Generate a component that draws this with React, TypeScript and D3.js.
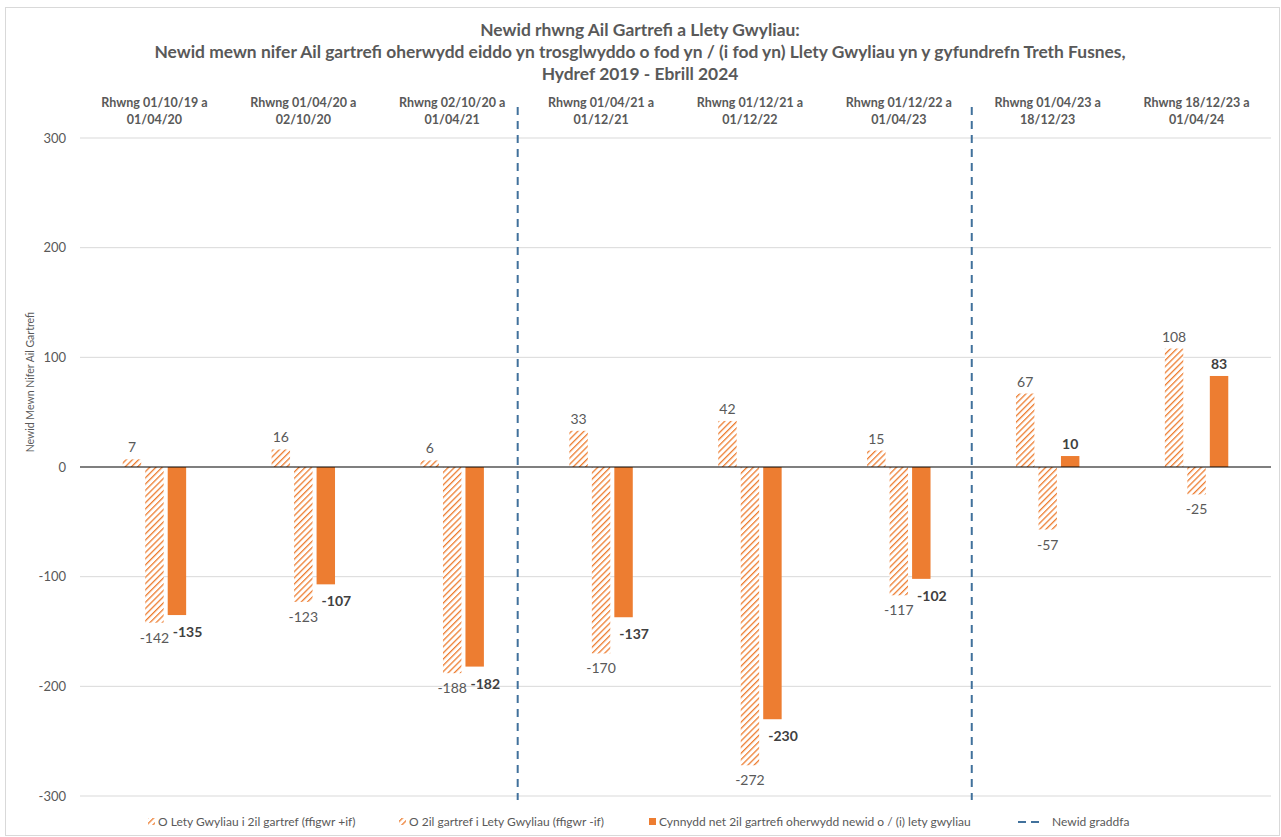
import React from "react";
import * as d3 from "d3";

const titleLines = [
  "Newid rhwng Ail Gartrefi a Llety Gwyliau:",
  "Newid mewn nifer Ail gartrefi oherwydd eiddo yn trosglwyddo o fod yn / (i fod yn) Llety Gwyliau yn y gyfundrefn Treth Fusnes,",
  "Hydref 2019 - Ebrill 2024",
];
const categories = [
  "Rhwng 01/10/19 a\n01/04/20",
  "Rhwng 01/04/20 a\n02/10/20",
  "Rhwng 02/10/20 a\n01/04/21",
  "Rhwng 01/04/21 a\n01/12/21",
  "Rhwng 01/12/21 a\n01/12/22",
  "Rhwng 01/12/22 a\n01/04/23",
  "Rhwng 01/04/23 a\n18/12/23",
  "Rhwng 18/12/23 a\n01/04/24",
];
const toSecondHomes = [7, 16, 6, 33, 42, 15, 67, 108];
const toHolidayLets = [-142, -123, -188, -170, -272, -117, -57, -25];
const netChange = [-135, -107, -182, -137, -230, -102, 10, 83];
const scaleChangeAt = [2.94, 5.99]; // category-index units
const yTicks = [-300, -200, -100, 0, 100, 200, 300];
const seriesNames = [
  "O Lety Gwyliau i 2il gartref (ffigwr +if)",
  "O 2il gartref i Lety Gwyliau (ffigwr -if)",
  "Cynnydd net 2il gartrefi oherwydd newid o / (i) lety gwyliau",
  "Newid graddfa",
];
const yTitle = "Newid Mewn Nifer Ail Gartrefi";

const ORANGE = "#ED7D31";
const GREY = "#595959";
const DARK = "#404040";
const BLUE = "#41719C";
const FONT = "Lato, 'Open Sans', sans-serif";

export default function App() {
  const W = 1281, H = 837;
  const left = 80, right = 1271, top = 138, bottom = 796;
  const x = d3.scaleBand<number>().domain(d3.range(categories.length)).range([left, right]);
  const inner = d3.scaleBand<number>().domain([0, 1, 2]).range([0, x.bandwidth()]).paddingInner(0.18).paddingOuter(1.9);
  const y = d3.scaleLinear().domain([-300, 300]).range([bottom, top]);
  const xc = d3.scaleLinear().domain([0, categories.length]).range([left, right]);
  const series = [toSecondHomes, toHolidayLets, netChange];
  const legendX = [148, 399, 649, 1018];

  return (
    <svg width={W} height={H} style={{ position: "absolute", left: 0, top: 0, background: "#fff" }} fontFamily={FONT}>
      <defs>
        <pattern id="hatch" patternUnits="userSpaceOnUse" width={4.4} height={4.4} patternTransform="rotate(45)">
          <rect width={4.4} height={4.4} fill="#fff" />
          <line x1={0} y1={0} x2={0} y2={4.4} stroke={ORANGE} strokeWidth={2.6} />
        </pattern>
      </defs>
      <rect x={5.5} y={7.5} width={1274} height={828} fill="#fff" stroke="#d9d9d9" />
      {titleLines.map((t, i) => (
        <text key={i} x={640} y={36 + i * 22} textAnchor="middle" fontSize={17.4} fontWeight={700} fill={GREY}>{t}</text>
      ))}
      {categories.map((c, i) =>
        c.split("\n").map((l, j) => (
          <text key={i + "-" + j} x={x(i)! + x.bandwidth() / 2} y={107 + j * 17} textAnchor="middle" fontSize={12.5} fontWeight={700} fill={GREY}>{l}</text>
        ))
      )}
      {yTicks.map((t) => (
        <g key={t}>
          {t !== 0 && <line x1={left} x2={right} y1={y(t)} y2={y(t)} stroke="#d9d9d9" strokeWidth={1} />}
          <text x={66} y={y(t) + 4.5} textAnchor="end" fontSize={13} fill={GREY}>{t}</text>
        </g>
      ))}
      <text transform={`translate(34,${(y(0) + y(100)) / 2 - 30}) rotate(-90)`} textAnchor="middle" fontSize={10.5} fill={GREY}>{yTitle}</text>
      {series.map((vals, s) =>
        vals.map((v, i) => {
          const bx = x(i)! + inner(s)!;
          const bw = inner.bandwidth();
          const y0 = y(Math.max(0, v));
          const h = Math.abs(y(v) - y(0));
          const bold = s === 2;
          let lx = bx + bw / 2, anchor = "middle";
          let ly = v >= 0 ? y(v) - 7 : y(v) + 20;
          if (bold && v < 0) { lx = bx + 5; anchor = "start"; ly = y(v) + 22; }
          return (
            <g key={s + "-" + i}>
              <rect x={bx} y={y0} width={bw} height={h} fill={s === 2 ? ORANGE : "url(#hatch)"} />
              <text x={lx} y={ly} textAnchor={anchor as any} fontSize={14} fontWeight={bold ? 700 : 400} fill={bold ? DARK : GREY}>{v}</text>
            </g>
          );
        })
      )}
      <line x1={left} x2={right} y1={y(0)} y2={y(0)} stroke="#000" strokeWidth={1.2} />
      {scaleChangeAt.map((p, i) => (
        <line key={i} x1={xc(p)} x2={xc(p)} y1={107} y2={800} stroke={BLUE} strokeWidth={2} strokeDasharray="8,6" />
      ))}
      <g fontSize={12} fill={GREY}>
        <rect x={legendX[0]} y={818} width={7} height={7} fill="url(#hatch)" />
        <text x={legendX[0] + 10} y={826}>{seriesNames[0]}</text>
        <rect x={legendX[1]} y={818} width={7} height={7} fill="url(#hatch)" />
        <text x={legendX[1] + 10} y={826}>{seriesNames[1]}</text>
        <rect x={legendX[2]} y={818} width={7} height={7} fill={ORANGE} />
        <text x={legendX[2] + 10} y={826}>{seriesNames[2]}</text>
        <line x1={legendX[3]} x2={legendX[3] + 26} y1={822} y2={822} stroke={BLUE} strokeWidth={2} strokeDasharray="8,5" />
        <text x={legendX[3] + 34} y={826}>{seriesNames[3]}</text>
      </g>
    </svg>
  );
}
